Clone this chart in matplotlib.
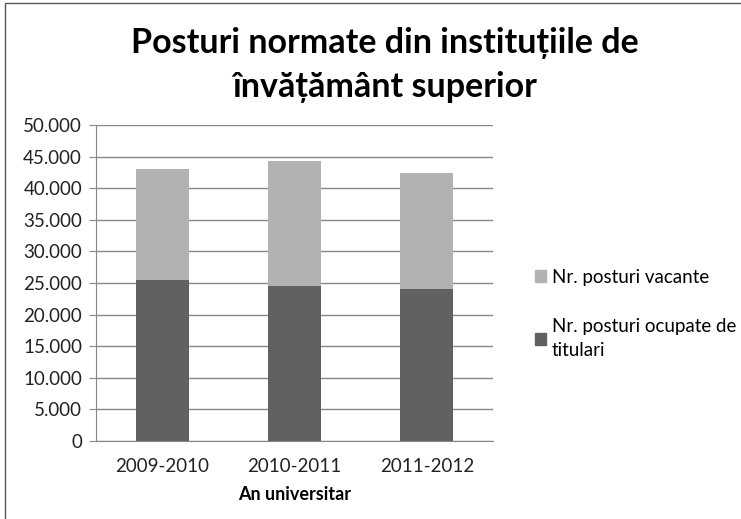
import matplotlib.pyplot as plt
from matplotlib.patches import Rectangle, Patch
from matplotlib.ticker import FuncFormatter

plt.rcParams['font.family'] = ['Lato', 'DejaVu Sans']

years = ['2009-2010', '2010-2011', '2011-2012']
ocupate = [25450, 24500, 24100]
vacante = [17600, 19800, 18350]

dark = '#616161'
light = '#b2b2b2'
gray = '#888888'

fig = plt.figure(figsize=(7.41, 5.19), dpi=100)
ax = fig.add_axes([96/741, 1-441/519, 397/741, 316/519])

x = range(len(years))
ax.bar(x, ocupate, width=0.4, color=dark, zorder=3)
ax.bar(x, vacante, width=0.4, bottom=ocupate, color=light, zorder=3)

ax.set_xlim(-0.5, 2.5)
ax.set_ylim(0, 50000)
ax.set_yticks(range(0, 50001, 5000))
ax.yaxis.set_major_formatter(FuncFormatter(lambda v, p: f'{int(v):,}'.replace(',', '.')))
ax.set_xticks(list(x))
ax.set_xticklabels(years)
ax.grid(axis='y', color=gray, linewidth=1, zorder=0)

for s in ['top', 'right']:
    ax.spines[s].set_visible(False)
for s in ['left', 'bottom']:
    ax.spines[s].set_color(gray)
ax.tick_params(axis='y', colors=gray, labelcolor='#222222', labelsize=13.5, length=5,
               direction='out', pad=5)
ax.tick_params(axis='x', length=0, labelcolor='#222222', labelsize=13.5, pad=12)
ax.set_xlabel('An universitar', fontsize=13, fontweight='bold', labelpad=8)

fig.text(0.52, 1-65/519, 'Posturi normate din instituțiile de\nînvățământ superior',
         ha='center', va='center', fontsize=24.5, fontweight='bold', linespacing=1.45)

handles = [Patch(color=light), Patch(color=dark)]
labels = ['Nr. posturi vacante', 'Nr. posturi ocupate de\ntitulari']
leg = fig.legend(handles, labels, loc='upper left', bbox_to_anchor=(518/741, 1-252/519),
                 frameon=False, fontsize=13.5, handlelength=0.6, handleheight=0.6,
                 handletextpad=0.3, labelspacing=1.7)
for t in leg.get_texts():
    t.set_linespacing(1.5)

# outer frame of the chart
fig.patches.append(Rectangle((5/741, -0.1), 1.2, 1-3/519+0.1, transform=fig.transFigure,
                             fill=False, edgecolor='#555555', linewidth=1))

fig.savefig('out.png', dpi=100)
